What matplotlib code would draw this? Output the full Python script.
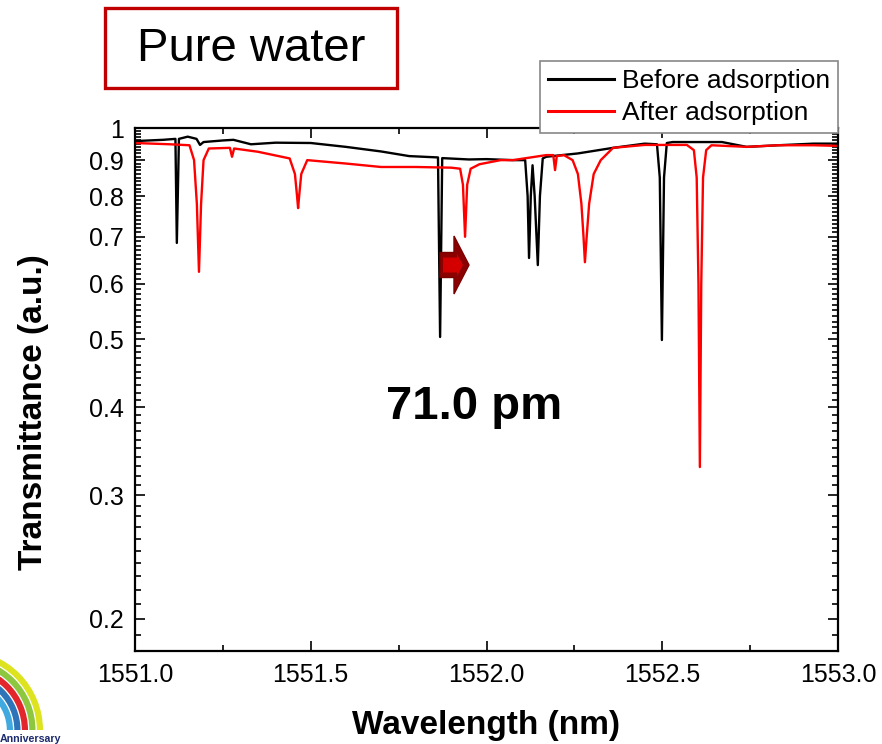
import numpy as np
import matplotlib
matplotlib.use("Agg")
import matplotlib.pyplot as plt
from matplotlib.patches import Rectangle, FancyArrow, Wedge
from matplotlib.ticker import FixedLocator, NullFormatter

plt.rcParams['font.family'] = ['Liberation Sans', 'DejaVu Sans']

# Before adsorption (black)
wl_before = [1551.00, 1551.08, 1551.115, 1551.119, 1551.125, 1551.15, 1551.175,
             1551.185, 1551.195, 1551.25, 1551.28, 1551.33, 1551.40, 1551.50,
             1551.60, 1551.70, 1551.78, 1551.862, 1551.868, 1551.874, 1551.95,
             1552.00, 1552.075, 1552.110, 1552.117, 1552.121, 1552.126, 1552.131,
             1552.137, 1552.146, 1552.152, 1552.160, 1552.17, 1552.26, 1552.36,
             1552.45, 1552.485, 1552.493, 1552.499, 1552.505, 1552.513, 1552.53,
             1552.60, 1552.67, 1552.74, 1552.83, 1552.93, 1553.00]
tr_before = [0.958, 0.962, 0.965, 0.686, 0.965, 0.972, 0.965,
             0.946, 0.955, 0.960, 0.962, 0.948, 0.953, 0.952,
             0.940, 0.926, 0.912, 0.908, 0.504, 0.906, 0.902,
             0.903, 0.900, 0.900, 0.800, 0.653, 0.800, 0.885,
             0.800, 0.638, 0.800, 0.905, 0.910, 0.920, 0.937,
             0.950, 0.948, 0.850, 0.499, 0.850, 0.952, 0.955,
             0.955, 0.955, 0.940, 0.945, 0.950, 0.950]

# After adsorption (red)
wl_after = [1551.00, 1551.10, 1551.155, 1551.168, 1551.176, 1551.182, 1551.188,
            1551.195, 1551.21, 1551.27, 1551.276, 1551.282, 1551.35, 1551.44,
            1551.455, 1551.461, 1551.464, 1551.467, 1551.473, 1551.49, 1551.60,
            1551.70, 1551.80, 1551.90, 1551.925, 1551.933, 1551.939, 1551.945,
            1551.955, 1551.98, 1552.04, 1552.075, 1552.17, 1552.19, 1552.195,
            1552.20, 1552.22, 1552.245, 1552.26, 1552.27, 1552.276, 1552.28,
            1552.285, 1552.292, 1552.305, 1552.325, 1552.36, 1552.45, 1552.57,
            1552.59, 1552.598, 1552.603, 1552.607, 1552.611, 1552.616, 1552.625,
            1552.64, 1552.74, 1552.83, 1552.93, 1553.00]
tr_after = [0.952, 0.948, 0.945, 0.900, 0.780, 0.624, 0.780,
            0.900, 0.935, 0.937, 0.910, 0.935, 0.925, 0.905,
            0.860, 0.800, 0.769, 0.800, 0.860, 0.900, 0.890,
            0.880, 0.880, 0.878, 0.875, 0.830, 0.700, 0.830,
            0.875, 0.888, 0.900, 0.900, 0.915, 0.915, 0.871,
            0.912, 0.915, 0.900, 0.860, 0.780, 0.700, 0.644,
            0.700, 0.780, 0.860, 0.900, 0.937, 0.946, 0.946,
            0.930, 0.850, 0.600, 0.329, 0.600, 0.850, 0.930,
            0.945, 0.940, 0.945, 0.945, 0.943]

ytick_vals = [0.2, 0.3, 0.4, 0.5, 0.6, 0.7, 0.8, 0.9, 1.0]
ytick_labels = ['0.2', '0.3', '0.4', '0.5', '0.6', '0.7', '0.8', '0.9', '1']
xtick_vals = [1551.0, 1551.5, 1552.0, 1552.5, 1553.0]

fig = plt.figure(figsize=(8.82, 7.44), dpi=100)
ax = fig.add_axes([135/882, 1-651/744, 703/882, 523/744])

ax.plot(wl_before, tr_before, color='black', lw=1.7, label='Before adsorption')
ax.plot(wl_after, tr_after, color='red', lw=1.7, label='After adsorption')

ax.set_yscale('log')
ax.set_xlim(1551.0, 1553.0)
ax.set_ylim(0.18, 1.0)
ax.yaxis.set_major_locator(FixedLocator(ytick_vals))
ax.set_yticklabels(ytick_labels)
ax.yaxis.set_minor_locator(FixedLocator(np.arange(0.18, 1.0, 0.01)))
ax.yaxis.set_minor_formatter(NullFormatter())
ax.set_xticks(xtick_vals)
ax.set_xticklabels(['%.1f' % v for v in xtick_vals])
ax.set_xticks(np.arange(1551.25, 1553.0, 0.5), minor=True)

ax.tick_params(which='both', direction='in', top=True, right=True,
               labelsize=18, width=1.2)
ax.tick_params(which='major', length=7)
ax.tick_params(which='minor', length=4)
ax.tick_params(axis='x', pad=9)
ax.tick_params(axis='y', pad=8)
for s in ax.spines.values():
    s.set_linewidth(1.6)

ax.set_xlabel('Wavelength (nm)', fontsize=24, fontweight='bold')
ax.xaxis.set_label_coords(0.5, -0.112)
ax.set_ylabel('Transmittance (a.u.)', fontsize=24, fontweight='bold')
ax.yaxis.set_label_coords(-0.122, 0.457)

ax.text(0.482, 0.4665, '71.0 pm', transform=ax.transAxes, fontsize=34,
        fontweight='bold', ha='center', va='center')

leg = ax.legend(loc='upper right', bbox_to_anchor=(838/882, 1-61/744),
                bbox_transform=fig.transFigure, borderaxespad=0, fontsize=19,
                handlelength=2.5, handletextpad=0.3, borderpad=0.3,
                labelspacing=0.3, fancybox=False, framealpha=1,
                edgecolor='#888888')
leg.get_frame().set_linewidth(1.2)
for h in leg.get_lines():
    h.set_linewidth(2.2)

# "Pure water" box
fig.patches.append(Rectangle((105/882, 1-88/744), 292/882, 80/744,
                             transform=fig.transFigure, fill=False,
                             edgecolor='#c00000', lw=2.4))
fig.text(251/882, 1-49/744, 'Pure water', fontsize=34, ha='center', va='center')

# shift arrow
fig.patches.append(FancyArrow(440/882, 1-265/744, 29/882, 0, width=25/744,
                              head_width=58/744, head_length=15/882,
                              length_includes_head=True, transform=fig.transFigure,
                              facecolor='#8b0000', edgecolor='#7a0000', lw=1))
fig.patches.append(FancyArrow(443/882, 1-265/744, 20/882, 0, width=15/744,
                              head_width=22/744, head_length=6/882,
                              length_includes_head=True, transform=fig.transFigure,
                              facecolor='#d40000', edgecolor='none'))

# corner logo
logo_colors = ['#dde31f', '#8dc63f', '#e3262b', '#2e74b8', '#3fa9e0']
for i, c in enumerate(logo_colors):
    r = 0.80 - i*0.075
    fig.patches.append(Wedge((-0.37, 0.14), r, 0, 90, width=0.062,
                             transform=fig.dpi_scale_trans, facecolor=c,
                             edgecolor='none'))
fig.text(0.0, 0.0, 'Anniversary', fontsize=7.7, fontweight='bold',
         color='#1c2a6e', ha='left', va='bottom')

fig.savefig('out.png', dpi=100)
